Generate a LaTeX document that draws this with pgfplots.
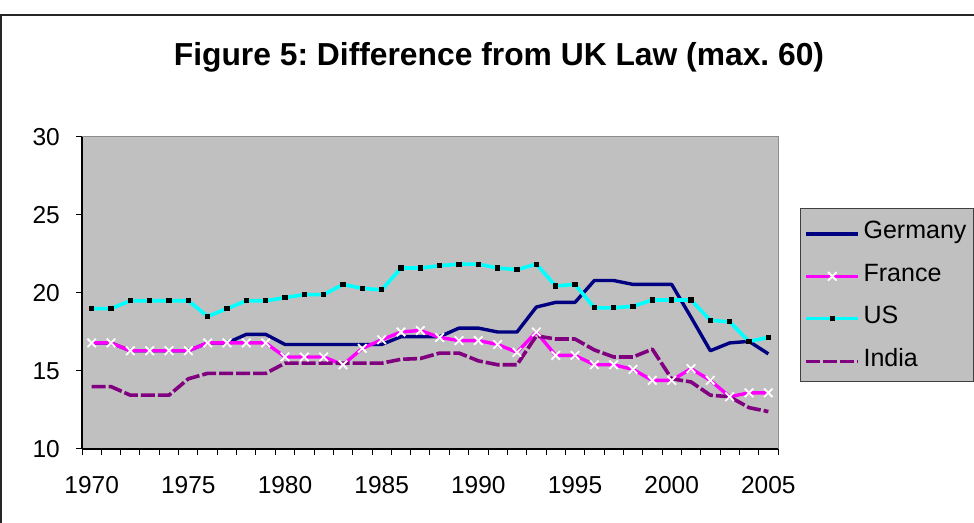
\documentclass[border=0pt]{standalone}
\usepackage{pgfplots}
\pgfplotsset{compat=1.18}
\usepackage{pgfplotstable}
\usepackage{fontspec}
\setmainfont{Liberation Sans}
\frenchspacing
\definecolor{plotgrey}{HTML}{C0C0C0}
\definecolor{germany}{HTML}{000080}
\definecolor{france}{HTML}{FF00FF}
\definecolor{us}{HTML}{00FFFF}
\definecolor{india}{HTML}{800080}
\pgfplotstableread{
year G F U I
1970 16.8 16.8 19.0 14.0
1971 16.8 16.8 19.0 14.0
1972 16.3 16.3 19.5 13.45
1973 16.3 16.3 19.5 13.45
1974 16.3 16.3 19.5 13.45
1975 16.3 16.3 19.5 14.5
1976 16.8 16.8 18.5 14.85
1977 16.8 16.8 19.0 14.85
1978 17.35 16.8 19.5 14.85
1979 17.35 16.8 19.5 14.85
1980 16.7 15.9 19.7 15.5
1981 16.7 15.9 19.9 15.5
1982 16.7 15.9 19.9 15.5
1983 16.7 15.4 20.55 15.5
1984 16.7 16.45 20.3 15.5
1985 16.7 17.0 20.2 15.5
1986 17.2 17.5 21.6 15.75
1987 17.2 17.6 21.6 15.8
1988 17.2 17.15 21.75 16.15
1989 17.75 16.95 21.85 16.15
1990 17.75 16.95 21.85 15.65
1991 17.5 16.7 21.6 15.4
1992 17.5 16.2 21.5 15.4
1993 19.1 17.5 21.85 17.25
1994 19.4 16.0 20.45 17.05
1995 19.4 16.0 20.55 17.05
1996 20.8 15.4 19.05 16.35
1997 20.8 15.4 19.05 15.9
1998 20.55 15.1 19.15 15.9
1999 20.55 14.4 19.55 16.4
2000 20.55 14.4 19.55 14.5
2001 18.45 15.15 19.55 14.3
2002 16.3 14.4 18.25 13.45
2003 16.8 13.35 18.15 13.35
2004 16.9 13.6 16.9 12.65
2005 16.1 13.6 17.15 12.4
}\datatable
\begin{document}
\begin{tikzpicture}
\useasboundingbox (0,0) rectangle (974pt,522pt);
\draw[line width=1.2pt, black!85] (1pt,-5pt) -- (1pt,507pt) -- (985pt,507pt);
\node[anchor=base, font=\fontsize{31.8}{36}\selectfont\bfseries] at (499pt,456pt) {Figure 5: Difference from UK Law (max. 60)};
\begin{axis}[
  at={(82pt,73pt)}, anchor=south west,
  scale only axis, width=696pt, height=312pt,
  xmin=1969.5, xmax=2005.5, ymin=10, ymax=30,
  axis lines=left, axis line style={-, line width=1.3pt, black},
  axis background/.style={fill=plotgrey},
  tick align=outside,
  ytick={10,15,20,25,30},
  xtick={1969.5,1970.5,...,2005.5},
  xticklabels={},
  extra x ticks={1970,1975,1980,1985,1990,1995,2000,2005},
  extra x tick labels={1970,1975,1980,1985,1990,1995,2000,2005},
  extra x tick style={major tick length=0pt},
  major tick length=6pt,
  tick style={line width=1pt, black},
  /pgf/number format/assume math mode=true,
  ticklabel style={font=\fontsize{24.5}{28}\selectfont},
  yticklabel style={anchor=east, inner sep=0pt, xshift=-16pt},
  xticklabel style={anchor=north, inner sep=0pt, yshift=-27pt},
  clip=false,
  legend style={
    at={(1.0316,0.7724)}, anchor=north west,
    fill=plotgrey, draw=black!75, line width=1pt,
    font=\fontsize{25}{29}\selectfont,
    inner xsep=4pt, inner ysep=11pt,
    row sep=19.5pt, column sep=0pt,
    nodes={inner ysep=2pt, inner xsep=3.5pt},
  },
  legend cell align=left,
  legend image code/.code={
    \draw[#1, mark repeat=2, mark phase=2, yshift=-3pt] plot coordinates {(0pt,0pt) (26pt,0pt) (52pt,0pt)};
  },
]
\addplot[germany, line width=3.4pt, line join=round] table[x=year,y=G] {\datatable};
\addlegendentry{Germany}
\addplot[france, line width=3.4pt, line join=round, mark=x, mark size=6pt,
  mark options={white, line width=1.8pt, solid}] table[x=year,y=F] {\datatable};
\addlegendentry{France}
\addplot[us, line width=3.6pt, line join=round, mark=square*, mark size=2.1pt,
  mark options={black, fill=black, line width=0pt}] table[x=year,y=U] {\datatable};
\addlegendentry{US}
\addplot[india, line width=3.6pt, line join=round, dash pattern=on 14pt off 3pt] table[x=year,y=I] {\datatable};
\addlegendentry{India}
\draw[line width=1pt, black!45] (rel axis cs:0,1) -- (rel axis cs:1,1) -- (rel axis cs:1,0);
\end{axis}
\end{tikzpicture}
\end{document}
